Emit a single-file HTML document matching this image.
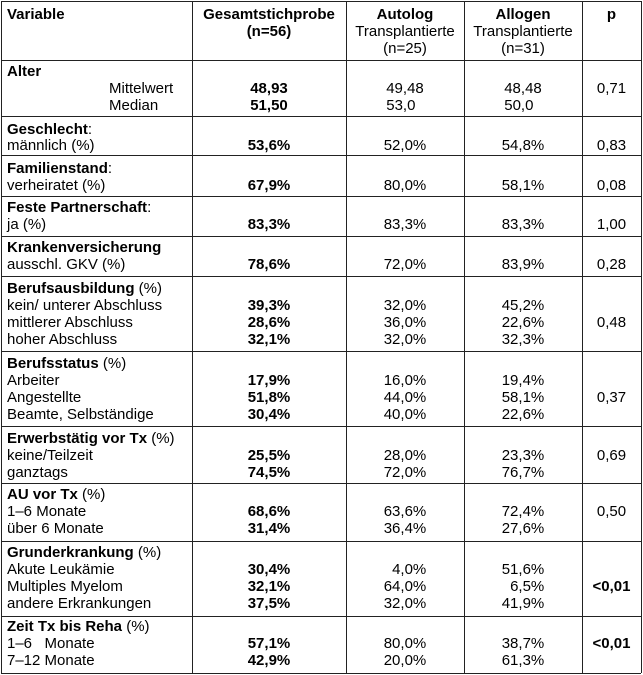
<!DOCTYPE html>
<html><head><meta charset="utf-8"><style>
body{margin:0;background:#fff;width:643px;height:675px;position:relative;overflow:hidden;font-family:"Liberation Sans",Arial,sans-serif;font-size:15px;color:#000}
.h{position:absolute;left:1px;width:640px;height:1px;background:#222}
.v{position:absolute;top:1px;height:672px;width:1px;background:#222}
.t{position:absolute;line-height:17px;height:17px;white-space:nowrap}
.l{left:7px}.m{left:109px}
.c1{left:192px;width:154px;text-align:center}
.c2{left:346px;width:118px;text-align:center}
.c3{left:464px;width:118px;text-align:center}
.c4{left:582px;width:59px;text-align:center}
b{font-weight:bold}
</style></head><body>
<div class="h" style="top:1px"></div>
<div class="h" style="top:60px"></div>
<div class="h" style="top:116px"></div>
<div class="h" style="top:155px"></div>
<div class="h" style="top:196px"></div>
<div class="h" style="top:236px"></div>
<div class="h" style="top:276px"></div>
<div class="h" style="top:351px"></div>
<div class="h" style="top:426px"></div>
<div class="h" style="top:483px"></div>
<div class="h" style="top:541px"></div>
<div class="h" style="top:616px"></div>
<div class="h" style="top:673px"></div>
<div class="v" style="left:1px"></div>
<div class="v" style="left:192px"></div>
<div class="v" style="left:346px"></div>
<div class="v" style="left:464px"></div>
<div class="v" style="left:582px"></div>
<div class="v" style="left:641px"></div>

<div class="t l" style="top:6px"><b>Variable</b></div>
<div class="t c1" style="top:6px"><b>Gesamtstichprobe</b></div>
<div class="t c1" style="top:23px"><b>(n=56)</b></div>
<div class="t c2" style="top:6px"><b>Autolog</b></div>
<div class="t c2" style="top:23px">Transplantierte</div>
<div class="t c2" style="top:40px">(n=25)</div>
<div class="t c3" style="top:6px"><b>Allogen</b></div>
<div class="t c3" style="top:23px">Transplantierte</div>
<div class="t c3" style="top:40px">(n=31)</div>
<div class="t c4" style="top:6px"><b>p</b></div>

<div class="t l" style="top:63px"><b>Alter</b></div>
<div class="t m" style="top:80px">Mittelwert</div>
<div class="t m" style="top:97px">Median</div>
<div class="t c1" style="top:80px"><b>48,93</b></div>
<div class="t c1" style="top:97px"><b>51,50</b></div>
<div class="t c2" style="top:80px">49,48</div>
<div class="t c2" style="top:97px">53,0&nbsp;&nbsp;</div>
<div class="t c3" style="top:80px">48,48</div>
<div class="t c3" style="top:97px">50,0&nbsp;&nbsp;</div>
<div class="t c4" style="top:80px">0,71</div>

<div class="t l" style="top:121px"><b>Geschlecht</b>:</div>
<div class="t l" style="top:137px">männlich (%)</div>
<div class="t c1" style="top:137px"><b>53,6%</b></div>
<div class="t c2" style="top:137px">52,0%</div>
<div class="t c3" style="top:137px">54,8%</div>
<div class="t c4" style="top:137px">0,83</div>

<div class="t l" style="top:160px"><b>Familienstand</b>:</div>
<div class="t l" style="top:177px">verheiratet (%)</div>
<div class="t c1" style="top:177px"><b>67,9%</b></div>
<div class="t c2" style="top:177px">80,0%</div>
<div class="t c3" style="top:177px">58,1%</div>
<div class="t c4" style="top:177px">0,08</div>

<div class="t l" style="top:199px"><b>Feste Partnerschaft</b>:</div>
<div class="t l" style="top:216px">ja (%)</div>
<div class="t c1" style="top:216px"><b>83,3%</b></div>
<div class="t c2" style="top:216px">83,3%</div>
<div class="t c3" style="top:216px">83,3%</div>
<div class="t c4" style="top:216px">1,00</div>

<div class="t l" style="top:239px"><b>Krankenversicherung</b></div>
<div class="t l" style="top:256px">ausschl. GKV (%)</div>
<div class="t c1" style="top:256px"><b>78,6%</b></div>
<div class="t c2" style="top:256px">72,0%</div>
<div class="t c3" style="top:256px">83,9%</div>
<div class="t c4" style="top:256px">0,28</div>

<div class="t l" style="top:280px"><b>Berufsausbildung</b> (%)</div>
<div class="t l" style="top:297px">kein/ unterer Abschluss</div>
<div class="t l" style="top:314px">mittlerer Abschluss</div>
<div class="t l" style="top:331px">hoher Abschluss</div>
<div class="t c1" style="top:297px"><b>39,3%</b></div>
<div class="t c1" style="top:314px"><b>28,6%</b></div>
<div class="t c1" style="top:331px"><b>32,1%</b></div>
<div class="t c2" style="top:297px">32,0%</div>
<div class="t c2" style="top:314px">36,0%</div>
<div class="t c2" style="top:331px">32,0%</div>
<div class="t c3" style="top:297px">45,2%</div>
<div class="t c3" style="top:314px">22,6%</div>
<div class="t c3" style="top:331px">32,3%</div>
<div class="t c4" style="top:314px">0,48</div>

<div class="t l" style="top:355px"><b>Berufsstatus</b> (%)</div>
<div class="t l" style="top:372px">Arbeiter</div>
<div class="t l" style="top:389px">Angestellte</div>
<div class="t l" style="top:406px">Beamte, Selbständige</div>
<div class="t c1" style="top:372px"><b>17,9%</b></div>
<div class="t c1" style="top:389px"><b>51,8%</b></div>
<div class="t c1" style="top:406px"><b>30,4%</b></div>
<div class="t c2" style="top:372px">16,0%</div>
<div class="t c2" style="top:389px">44,0%</div>
<div class="t c2" style="top:406px">40,0%</div>
<div class="t c3" style="top:372px">19,4%</div>
<div class="t c3" style="top:389px">58,1%</div>
<div class="t c3" style="top:406px">22,6%</div>
<div class="t c4" style="top:389px">0,37</div>

<div class="t l" style="top:430px"><b>Erwerbstätig vor Tx</b> (%)</div>
<div class="t l" style="top:447px">keine/Teilzeit</div>
<div class="t l" style="top:464px">ganztags</div>
<div class="t c1" style="top:447px"><b>25,5%</b></div>
<div class="t c1" style="top:464px"><b>74,5%</b></div>
<div class="t c2" style="top:447px">28,0%</div>
<div class="t c2" style="top:464px">72,0%</div>
<div class="t c3" style="top:447px">23,3%</div>
<div class="t c3" style="top:464px">76,7%</div>
<div class="t c4" style="top:447px">0,69</div>

<div class="t l" style="top:486px"><b>AU vor Tx</b> (%)</div>
<div class="t l" style="top:503px">1–6 Monate</div>
<div class="t l" style="top:520px">über 6 Monate</div>
<div class="t c1" style="top:503px"><b>68,6%</b></div>
<div class="t c1" style="top:520px"><b>31,4%</b></div>
<div class="t c2" style="top:503px">63,6%</div>
<div class="t c2" style="top:520px">36,4%</div>
<div class="t c3" style="top:503px">72,4%</div>
<div class="t c3" style="top:520px">27,6%</div>
<div class="t c4" style="top:503px">0,50</div>

<div class="t l" style="top:544px"><b>Grunderkrankung</b> (%)</div>
<div class="t l" style="top:561px">Akute Leukämie</div>
<div class="t l" style="top:578px">Multiples Myelom</div>
<div class="t l" style="top:595px">andere Erkrankungen</div>
<div class="t c1" style="top:561px"><b>30,4%</b></div>
<div class="t c1" style="top:578px"><b>32,1%</b></div>
<div class="t c1" style="top:595px"><b>37,5%</b></div>
<div class="t c2" style="top:561px">&nbsp;&nbsp;4,0%</div>
<div class="t c2" style="top:578px">64,0%</div>
<div class="t c2" style="top:595px">32,0%</div>
<div class="t c3" style="top:561px">51,6%</div>
<div class="t c3" style="top:578px">&nbsp;&nbsp;6,5%</div>
<div class="t c3" style="top:595px">41,9%</div>
<div class="t c4" style="top:578px"><b>&lt;0,01</b></div>

<div class="t l" style="top:618px"><b>Zeit Tx bis Reha</b> (%)</div>
<div class="t l" style="top:635px">1–6&nbsp;&nbsp;&nbsp;Monate</div>
<div class="t l" style="top:652px">7–12 Monate</div>
<div class="t c1" style="top:635px"><b>57,1%</b></div>
<div class="t c1" style="top:652px"><b>42,9%</b></div>
<div class="t c2" style="top:635px">80,0%</div>
<div class="t c2" style="top:652px">20,0%</div>
<div class="t c3" style="top:635px">38,7%</div>
<div class="t c3" style="top:652px">61,3%</div>
<div class="t c4" style="top:635px"><b>&lt;0,01</b></div>
</body></html>
